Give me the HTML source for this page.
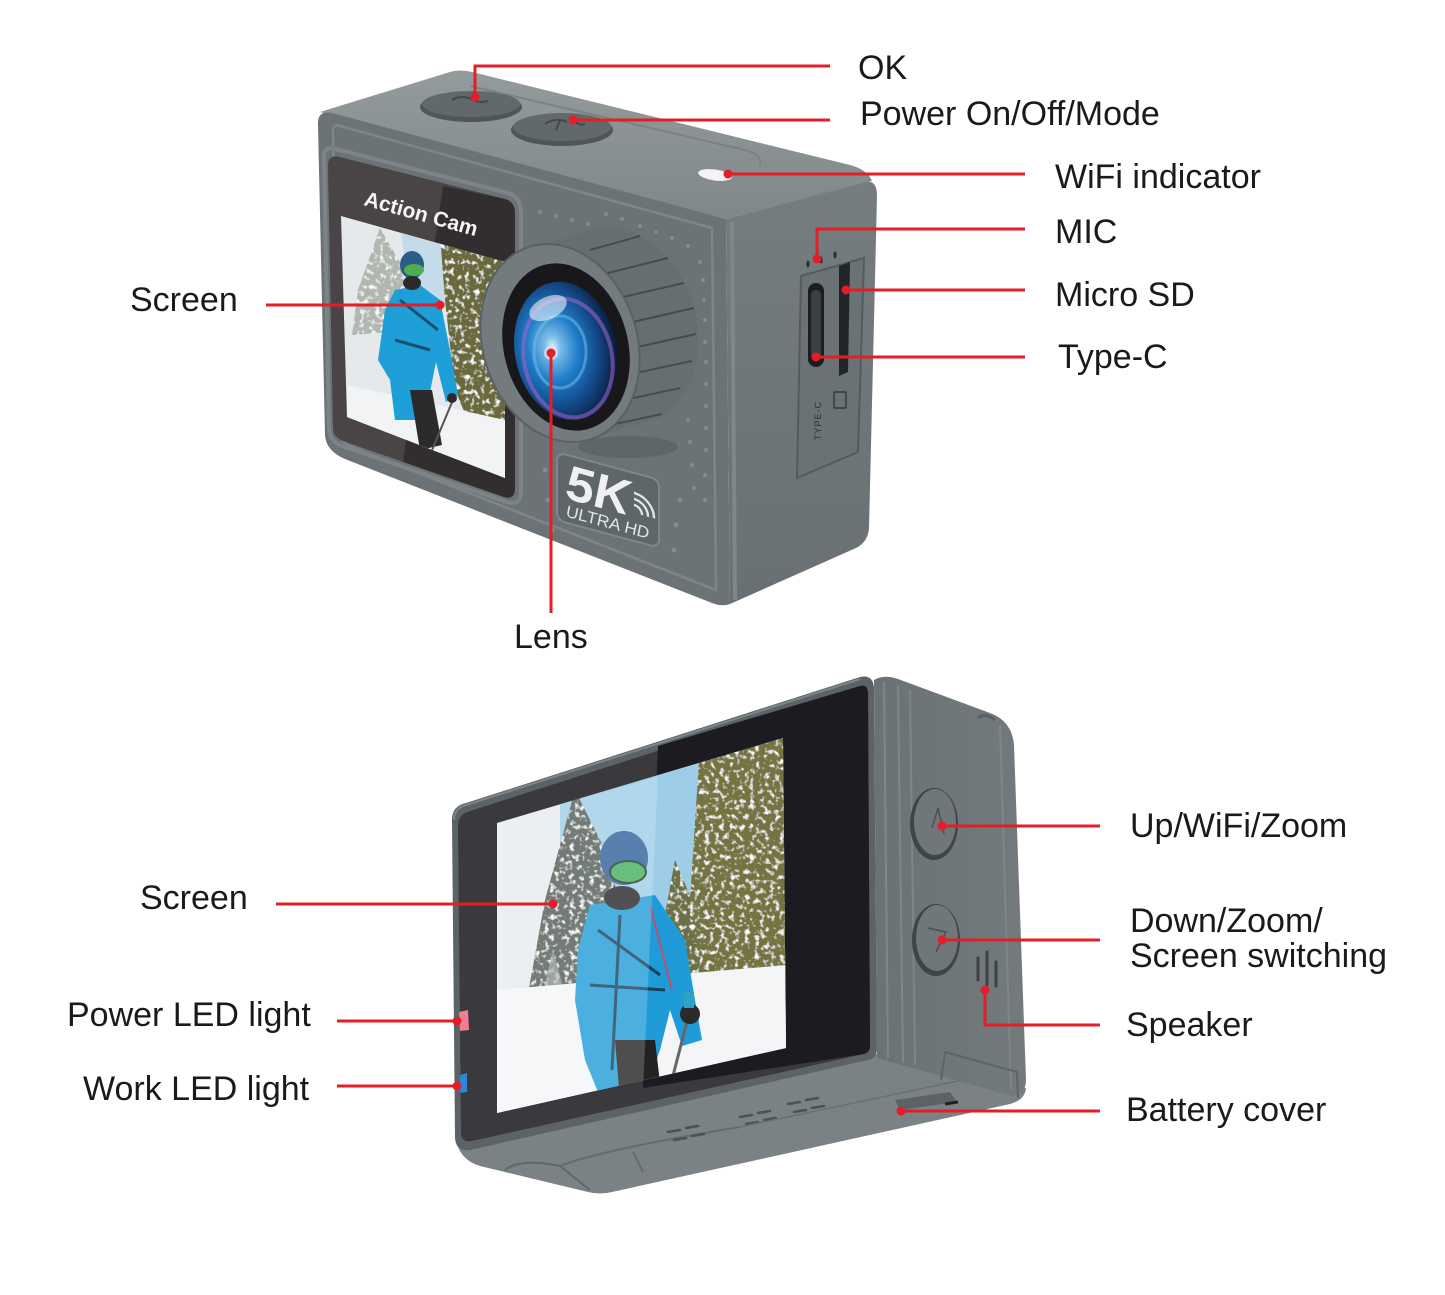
<!DOCTYPE html>
<html><head><meta charset="utf-8"><style>
html,body{margin:0;padding:0;background:#fff;}
svg{display:block;}
.t{font-family:"Liberation Sans",Arial,sans-serif;font-size:34px;fill:#1a1a1a;}
.r{stroke:#e31e26;stroke-width:3;fill:none;}
.d{fill:#e31e26;}
</style></head><body>
<svg width="1445" height="1295" viewBox="0 0 1445 1295" xmlns="http://www.w3.org/2000/svg">
<defs>
 <linearGradient id="topS" x1="0" y1="0" x2="0" y2="1"><stop offset="0" stop-color="#949b9d"/><stop offset="1" stop-color="#7f8789"/></linearGradient>
 <linearGradient id="sideA" x1="0" y1="0" x2="0" y2="1"><stop offset="0" stop-color="#757d80"/><stop offset="1" stop-color="#687073"/></linearGradient>
 <linearGradient id="sideB" x1="0" y1="0" x2="1" y2="0"><stop offset="0" stop-color="#6b7275"/><stop offset="1" stop-color="#737a7d"/></linearGradient>
 <radialGradient id="glass" cx="0.38" cy="0.45" r="0.62"><stop offset="0" stop-color="#e6ecf7"/><stop offset="0.12" stop-color="#7bbde8"/><stop offset="0.4" stop-color="#1f7cc9"/><stop offset="0.72" stop-color="#134785"/><stop offset="1" stop-color="#0a1a38"/></radialGradient>
 <clipPath id="tp"><polygon points="341,216 505,262 505,478 347,417"/></clipPath>
 <clipPath id="bp"><polygon points="497,823 783,738 786,1048 497,1113"/></clipPath>
 <filter id="snow" x="0" y="0" width="1" height="1">
  <feTurbulence type="fractalNoise" baseFrequency="0.2" numOctaves="2" seed="3" result="n"/>
  <feColorMatrix in="n" type="matrix" values="0 0 0 0 1  0 0 0 0 1  0 0 0 0 1  4 0 0 0 -2.1" result="w"/>
  <feComposite in="w" in2="SourceGraphic" operator="atop"/>
 </filter>
</defs>

<!-- ================= TOP CAMERA ================= -->
<path d="M320,112 L450,72 Q460,69 472,72 L850,165 Q868,170 872,181 L726,219 Z" fill="url(#topS)"/>
<path d="M470,86 L745,150 Q763,155 760,166" stroke="#7b8285" stroke-width="2" fill="none"/>
<line x1="322" y1="116" x2="724" y2="222" stroke="#9ba2a4" stroke-width="3"/>
<ellipse cx="471" cy="107" rx="51" ry="15" fill="#4f5659"/>
<ellipse cx="471" cy="104" rx="49" ry="13" fill="#62696c"/>
<path d="M452,100 q10,-6 22,0 M470,98 q8,6 18,3" stroke="#42484b" stroke-width="2" fill="none"/>
<ellipse cx="562" cy="130" rx="51" ry="16" fill="#4f5659"/>
<ellipse cx="562" cy="127" rx="49" ry="14" fill="#62696c"/>
<path d="M545,124 q10,-7 22,-2 M560,120 l-4,10 M575,122 q6,4 10,2" stroke="#42484b" stroke-width="2" fill="none"/>
<ellipse cx="715" cy="175" rx="17" ry="5.5" fill="#f4f4f4" transform="rotate(8 715 175)"/>
<path d="M726,219 L866,182 Q877,180 877,196 L869,528 Q868,542 856,548 L730,604 Z" fill="url(#sideA)"/>
<line x1="732" y1="222" x2="735" y2="600" stroke="#7f878a" stroke-width="4"/>
<path d="M801,276 L864,258 L858,452 L797,478 Z" fill="#6a7275" stroke="#545b5e" stroke-width="2"/>
<rect x="808" y="283" width="16" height="84" rx="8" fill="#1c1d1f"/>
<rect x="811" y="290" width="10" height="70" rx="5" fill="#3b4043"/>
<path d="M839,266 L850,262 L848,372 L839,376 Z" fill="#222527"/>
<ellipse cx="808" cy="264" rx="1.6" ry="3.5" fill="#2a2e30"/>
<ellipse cx="821" cy="260" rx="1.6" ry="3.5" fill="#2a2e30"/>
<ellipse cx="835" cy="255" rx="1.6" ry="3.5" fill="#2a2e30"/>
<text x="0" y="0" transform="translate(821,440) rotate(-90)" font-family="Liberation Sans,Arial,sans-serif" font-size="9" fill="#2c3133" letter-spacing="1">TYPE-C</text>
<rect x="834" y="392" width="12" height="16" rx="1" fill="none" stroke="#2c3133" stroke-width="1.3"/>
<path d="M318,125 Q317,110 332,113 L726,219 L730,604 Q722,607 712,603 L345,459 Q326,451 325,435 Z" fill="#6b7376"/>
<path d="M333,130 Q333,124 340,126 L712,228 L716,590 L352,447 Q339,442 338,430 Z" fill="none" stroke="#7e868a" stroke-width="2.5"/>
<path d="M324,156 Q324,146 336,149 L508,193 Q521,197 521,212 L521,492 Q521,506 507,502 L342,446 Q329,441 329,428 Z" fill="none" stroke="#7c8487" stroke-width="4"/>
<path d="M328,166 Q328,154 340,157 L505,199 Q515,202 515,213 L515,488 Q515,500 504,497 L343,441 Q333,437 333,428 Z" fill="#4a4446"/>
<path d="M443,186 L505,199 Q515,202 515,213 L515,488 Q515,500 504,497 L403,462 Z" fill="#322d2e"/>
<text x="0" y="0" transform="translate(363,205) rotate(15.5)" font-family="Liberation Sans,Arial,sans-serif" font-size="21" font-weight="bold" fill="#f4f4f4">Action Cam</text>
<g clip-path="url(#tp)">
 <rect x="330" y="200" width="190" height="290" fill="#e6e9ec"/>
 <polygon points="400,225 460,240 452,310 410,295" fill="#c4dcea"/>
 <polygon points="380,228 400,262 412,330 352,335 358,290" fill="#a7ada6" filter="url(#snow)" opacity="0.85"/>
 <polygon points="440,235 505,255 505,440 470,425 455,390 445,300" fill="#6b693a" filter="url(#snow)"/>
 <polygon points="347,385 505,420 505,480 347,422" fill="#f1f3f5"/>
 <polygon points="395,290 420,285 440,300 450,350 458,395 446,402 436,362 430,392 420,420 395,420 390,380 378,360 385,310" fill="#1f9fd8"/>
 <path d="M400,300 L438,330 M395,340 L430,350" stroke="#1a4f6e" stroke-width="3"/>
 <ellipse cx="412" cy="265" rx="12" ry="14" fill="#2c5d86"/>
 <ellipse cx="414" cy="270" rx="10" ry="6" fill="#4caf50"/>
 <ellipse cx="412" cy="283" rx="9" ry="7" fill="#2a2a2a"/>
 <polygon points="410,390 432,390 442,445 420,450" fill="#2b2b2e"/>
 <line x1="455" y1="395" x2="430" y2="455" stroke="#555" stroke-width="2"/>
 <circle cx="452" cy="398" r="5" fill="#2a2a2a"/>
</g>
<g fill="#848c8f">
 <circle cx="540" cy="212" r="2"/><circle cx="556" cy="216" r="2"/><circle cx="572" cy="220" r="2"/><circle cx="588" cy="224" r="2"/>
 <circle cx="606" cy="214" r="2"/><circle cx="622" cy="219" r="2"/><circle cx="640" cy="226" r="2"/><circle cx="656" cy="232" r="2"/>
 <circle cx="672" cy="238" r="2"/><circle cx="688" cy="246" r="2"/><circle cx="700" cy="262" r="2"/><circle cx="703" cy="280" r="2"/>
 <circle cx="704" cy="300" r="2"/><circle cx="705" cy="320" r="2"/><circle cx="705" cy="342" r="2"/><circle cx="706" cy="362" r="2"/>
 <circle cx="706" cy="384" r="2"/><circle cx="706" cy="406" r="2"/><circle cx="706" cy="428" r="2"/><circle cx="706" cy="450" r="2"/>
 <circle cx="688" cy="420" r="2"/><circle cx="690" cy="442" r="2"/><circle cx="692" cy="465" r="2"/><circle cx="694" cy="488" r="2"/>
 <circle cx="680" cy="500" r="2.5"/><circle cx="676" cy="525" r="2.5"/><circle cx="674" cy="550" r="2.5"/><circle cx="705" cy="475" r="2"/><circle cx="705" cy="500" r="2"/>
 <circle cx="545" cy="470" r="2.5"/><circle cx="548" cy="500" r="2.5"/><circle cx="552" cy="530" r="2.5"/>
</g>
<ellipse cx="628" cy="447" rx="50" ry="11" fill="#4c5355" opacity="0.4"/>
<g fill="#666e71">
 <ellipse cx="560" cy="343" rx="76" ry="100" transform="rotate(-18 560 343)"/>
 <ellipse cx="572" cy="339" rx="76" ry="100" transform="rotate(-18 572 339)"/>
 <ellipse cx="584" cy="336" rx="76" ry="100" transform="rotate(-18 584 336)"/>
 <ellipse cx="596" cy="332" rx="76" ry="100" transform="rotate(-18 596 332)"/>
 <ellipse cx="608" cy="329" rx="76" ry="100" transform="rotate(-18 608 329)"/>
 <ellipse cx="620" cy="325" rx="76" ry="100" transform="rotate(-18 620 325)"/>
</g>
<g stroke="#454c4f" stroke-width="2">
 <line x1="590" y1="250" x2="640" y2="236"/><line x1="600" y1="275" x2="668" y2="258"/>
 <line x1="610" y1="300" x2="684" y2="283"/><line x1="615" y1="326" x2="694" y2="308"/>
 <line x1="615" y1="352" x2="696" y2="334"/><line x1="612" y1="378" x2="692" y2="361"/>
 <line x1="606" y1="404" x2="680" y2="388"/><line x1="596" y1="428" x2="662" y2="414"/>
</g>
<ellipse cx="560" cy="343" rx="77" ry="101" transform="rotate(-18 560 343)" fill="#737b7e" stroke="#5a6164" stroke-width="2"/>
<ellipse cx="566" cy="347" rx="62" ry="85" transform="rotate(-15 566 347)" fill="#18181b"/>
<ellipse cx="566" cy="351" rx="51" ry="70" transform="rotate(-12 566 351)" fill="url(#glass)"/>
<ellipse cx="568" cy="358" rx="44" ry="60" transform="rotate(-12 568 358)" fill="none" stroke="#a566d0" stroke-width="4" opacity="0.55"/>
<ellipse cx="560" cy="352" rx="26" ry="36" fill="none" stroke="#6fc8ee" stroke-width="3" opacity="0.5"/>
<ellipse cx="548" cy="308" rx="20" ry="11" fill="#ffffff" opacity="0.55" transform="rotate(-25 548 308)"/>
<circle cx="551" cy="353" r="7" fill="#d9e4f3" opacity="0.8"/>
<g transform="matrix(1,0.268,0,1,0,-163)">
 <rect x="557" y="466" width="102" height="68" rx="8" fill="#5f6669" stroke="#7f878a" stroke-width="2"/>
 <text x="566" y="510" font-family="Liberation Sans,Arial,sans-serif" font-size="50" font-weight="bold" font-style="italic" fill="#eef0f1">5K</text>
 <text x="566" y="528" font-family="Liberation Sans,Arial,sans-serif" font-size="17" font-style="italic" fill="#e2e5e6">ULTRA HD</text>
 <path d="M634,498 a8,8 0 0 1 8,8 M634,492 a14,14 0 0 1 14,14 M634,486 a20,20 0 0 1 20,20" stroke="#e2e5e6" stroke-width="2.5" fill="none"/>
</g>

<!-- ================= BOTTOM CAMERA ================= -->
<path d="M456,1140 L877,1054 L1026,1088 Q1025,1100 1010,1104 L612,1192 Q600,1195 588,1192 L480,1166 Q460,1160 456,1140 Z" fill="#7b8285"/>
<path d="M560,1166 Q600,1150 740,1127 M633,1152 L643,1172" stroke="#656c6f" stroke-width="2" fill="none"/>
<path d="M505,1170 Q520,1158 560,1166 L590,1190" stroke="#60676a" stroke-width="2" fill="none"/>
<g stroke="#4b5255" stroke-width="2.5" stroke-linecap="round">
 <line x1="668" y1="1132" x2="680" y2="1130"/><line x1="686" y1="1128" x2="698" y2="1126"/>
 <line x1="674" y1="1140" x2="686" y2="1138"/><line x1="692" y1="1136" x2="704" y2="1134"/>
 <line x1="740" y1="1117" x2="752" y2="1115"/><line x1="758" y1="1113" x2="770" y2="1111"/>
 <line x1="746" y1="1124" x2="758" y2="1122"/><line x1="764" y1="1120" x2="776" y2="1118"/>
 <line x1="788" y1="1104" x2="800" y2="1102"/><line x1="806" y1="1100" x2="818" y2="1098"/>
 <line x1="794" y1="1112" x2="806" y2="1110"/><line x1="812" y1="1108" x2="824" y2="1106"/>
</g>
<line x1="740" y1="1127" x2="1010" y2="1070" stroke="#6a7174" stroke-width="1.5"/>
<path d="M895,1100 L950,1092 L957,1102 L900,1110 Z" fill="#5c6366"/>
<path d="M945,1104 L958,1102" stroke="#222" stroke-width="3"/>
<path d="M874,680 Q884,674 898,679 L990,713 Q1012,721 1014,745 L1026,1080 Q1026,1094 1012,1096 L877,1058 Z" fill="url(#sideB)"/>
<g stroke="#7f8689" stroke-width="2" fill="none">
 <line x1="884" y1="682" x2="888" y2="1058"/><line x1="898" y1="686" x2="903" y2="1062"/>
 <line x1="910" y1="690" x2="915" y2="1065"/><line x1="1000" y1="725" x2="1011" y2="1090"/>
</g>
<path d="M978,718 Q986,712 995,720" stroke="#5a6164" stroke-width="3" fill="none"/>
<path d="M945,1052 L1017,1072 L1018,1098 M945,1052 L941,1080" stroke="#5d6467" stroke-width="2" fill="none"/>
<ellipse cx="934" cy="824" rx="24" ry="36" fill="#3e4447"/>
<ellipse cx="935" cy="822" rx="21" ry="33" fill="#70777a"/>
<path d="M938,808 L932,828 M938,808 L944,834" stroke="#4a5053" stroke-width="1.5" fill="none"/>
<ellipse cx="936" cy="940" rx="24" ry="36" fill="#3e4447"/>
<ellipse cx="937" cy="938" rx="21" ry="33" fill="#70777a"/>
<path d="M928,928 L946,932 L936,952" stroke="#4a5053" stroke-width="1.5" fill="none"/>
<g stroke="#3b4144" stroke-width="3" stroke-linecap="round">
 <line x1="978" y1="958" x2="978" y2="980"/><line x1="987" y1="952" x2="987" y2="985"/><line x1="996" y1="962" x2="996" y2="986"/>
</g>
<path d="M452,822 Q451,806 466,803 L860,677 Q873,674 874,688 L877,1049 Q877,1058 868,1060 L470,1150 Q456,1152 455,1138 Z" fill="#5c6366"/>
<path d="M454,820 Q454,808 466,805 L860,679" stroke="#7e8588" stroke-width="2" fill="none"/>
<path d="M458,826 Q458,814 470,811 L860,686 Q868,684 868,694 L870,1046 Q870,1052 864,1054 L472,1141 Q461,1143 461,1133 Z" fill="#3a393e"/>
<path d="M658,746 L860,686 Q868,684 868,694 L870,1046 Q870,1052 864,1054 L643,1088 Z" fill="#1c1b22"/>
<g clip-path="url(#bp)">
 <rect x="490" y="730" width="300" height="390" fill="#e8ebee"/>
 <polygon points="560,760 700,730 700,905 560,950" fill="#9ecde8"/>
 <polygon points="575,790 605,850 625,920 640,1000 525,1010 545,900" fill="#4f5a52" filter="url(#snow)"/>
 <polygon points="553,950 568,1005 538,1012" fill="#9aa3a5" opacity="0.7"/>
 <polygon points="675,860 700,920 712,1000 648,1000 664,920" fill="#6d7045" filter="url(#snow)"/>
 <polygon points="700,745 786,736 786,1000 705,990 690,900" fill="#75733f" filter="url(#snow)"/>
 <polygon points="497,990 786,965 786,1050 497,1115" fill="#f3f5f7"/>
 <polygon points="590,905 655,895 685,940 695,1000 702,1040 682,1046 670,1010 660,1050 645,1092 600,1097 585,1060 575,1000 578,950" fill="#1f9bd7"/>
 <path d="M598,930 L660,975 M590,985 L665,990 M620,915 L612,1070" stroke="#153f5a" stroke-width="3" fill="none"/>
 <path d="M650,905 L672,990" stroke="#c0506a" stroke-width="2" fill="none"/>
 <ellipse cx="624" cy="858" rx="24" ry="27" fill="#2f5f99"/>
 <ellipse cx="628" cy="872" rx="18" ry="11" fill="#44b05c" stroke="#1d3d2a" stroke-width="2"/>
 <ellipse cx="622" cy="898" rx="18" ry="12" fill="#262628"/>
 <polygon points="615,1040 655,1040 662,1100 620,1100" fill="#222"/>
 <line x1="690" y1="1010" x2="668" y2="1095" stroke="#666" stroke-width="3"/>
 <circle cx="690" cy="1014" r="10" fill="#2a2a2a"/>
 <rect x="684" y="992" width="10" height="16" fill="#2aa3c4"/>
 <polygon points="497,823 658,776 643,1090 497,1113" fill="#ffffff" opacity="0.2"/>
</g>
<path d="M459,1012 L468,1010 L469,1030 L460,1031 Z" fill="#ef7f92"/>
<path d="M460,1075 L467,1073 L467,1092 L460,1093 Z" fill="#2d86d6"/>

<!-- ================= LEADER LINES ================= -->
<path class="r" d="M830,66 H475 V97"/><circle class="d" cx="475" cy="97" r="4.5"/>
<path class="r" d="M830,120 H573"/><circle class="d" cx="573" cy="120" r="4.5"/>
<path class="r" d="M1025,174 H728"/><circle class="d" cx="728" cy="174" r="4.5"/>
<path class="r" d="M1025,229 H817 V259"/><circle class="d" cx="817" cy="259" r="4.5"/>
<path class="r" d="M1025,290 H846"/><circle class="d" cx="846" cy="290" r="4.5"/>
<path class="r" d="M1025,357 H816"/><circle class="d" cx="816" cy="357" r="4.5"/>
<path class="r" d="M266,305 H440"/><circle class="d" cx="440" cy="305" r="4.5"/>
<path class="r" d="M551,353 V613"/><circle class="d" cx="551" cy="353" r="4.5"/>
<path class="r" d="M1100,826 H942"/><circle class="d" cx="942" cy="826" r="4.5"/>
<path class="r" d="M1100,940 H942"/><circle class="d" cx="942" cy="940" r="4.5"/>
<path class="r" d="M1100,1025 H985 V990"/><circle class="d" cx="985" cy="990" r="4.5"/>
<path class="r" d="M1100,1111 H901"/><circle class="d" cx="901" cy="1111" r="4.5"/>
<path class="r" d="M276,904 H553"/><circle class="d" cx="553" cy="904" r="4.5"/>
<path class="r" d="M337,1021 H457"/><circle class="d" cx="457" cy="1021" r="4.5"/>
<path class="r" d="M337,1086 H457"/><circle class="d" cx="457" cy="1086" r="4.5"/>

<!-- ================= LABELS ================= -->
<text class="t" x="858" y="79">OK</text>
<text class="t" x="860" y="125">Power On/Off/Mode</text>
<text class="t" x="1055" y="188">WiFi indicator</text>
<text class="t" x="1055" y="243">MIC</text>
<text class="t" x="1055" y="306">Micro SD</text>
<text class="t" x="1058" y="368">Type-C</text>
<text class="t" x="130" y="311">Screen</text>
<text class="t" x="514" y="648">Lens</text>
<text class="t" x="1130" y="837">Up/WiFi/Zoom</text>
<text class="t" x="1130" y="932">Down/Zoom/</text>
<text class="t" x="1130" y="967">Screen switching</text>
<text class="t" x="1126" y="1036">Speaker</text>
<text class="t" x="1126" y="1121">Battery cover</text>
<text class="t" x="140" y="909">Screen</text>
<text class="t" x="67" y="1026">Power LED light</text>
<text class="t" x="83" y="1100">Work LED light</text>
</svg>
</body></html>
